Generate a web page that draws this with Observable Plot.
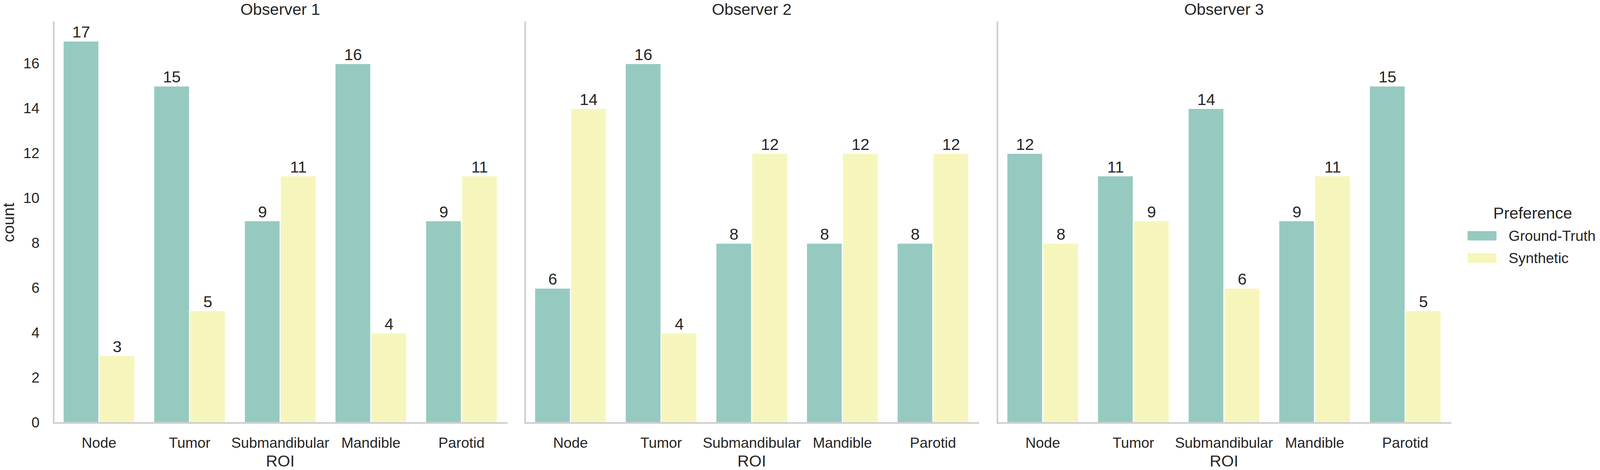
<!DOCTYPE html>
<html>
<head>
<meta charset="utf-8">
<script src="https://cdn.jsdelivr.net/npm/d3@7"></script>
<script src="https://cdn.jsdelivr.net/npm/@observablehq/plot@0.6"></script>
<style>
  html, body { margin: 0; padding: 0; background: #ffffff; overflow: hidden; height: 1204px; }
  #chart { position: relative; height: 1204px; font-family: "Liberation Sans", Arial, sans-serif; color: #262626; background: #ffffff; }
  .panel { position: absolute; top: 0; }
  .lg { position: absolute; white-space: nowrap; line-height: 1; }
</style>
</head>
<body>
<div id="chart"></div>
<script>
// ---- data ----
const observers = ["Observer 1", "Observer 2", "Observer 3"];
const rois = ["Node", "Tumor", "Submandibular", "Mandible", "Parotid"];
const preferences = ["Ground-Truth", "Synthetic"];
const groundTruthObs1 = [17, 15, 9, 16, 9];
const syntheticObs1   = [3, 5, 11, 4, 11];
const groundTruthObs2 = [6, 16, 8, 8, 8];
const syntheticObs2   = [14, 4, 12, 12, 12];
const groundTruthObs3 = [12, 11, 14, 9, 15];
const syntheticObs3   = [8, 9, 6, 11, 5];
const yTicks = [0, 2, 4, 6, 8, 10, 12, 14, 16];
const colors = ["#96cac1", "#f6f6bc"];

const seriesByObserver = [
  [groundTruthObs1, syntheticObs1],
  [groundTruthObs2, syntheticObs2],
  [groundTruthObs3, syntheticObs3]
];

// ---- layout (designed for 4168 px, fitted to the available width) ----
const DESIGN_W = 4168;
const W = Math.min(window.innerWidth || DESIGN_W, DESIGN_W);
const sx = W / DESIGN_W;
const panels = [
  {left: 0,    ml: 137, mr: 22, fw: 1185},
  {left: 1344, ml: 22,  mr: 22, fw: 1184},
  {left: 2573, ml: 22,  mr: 22, fw: 1185}
];
const FONT = '"Liberation Sans", Arial, sans-serif';
const TXT = "#262626";
const SPINE = "#cccccc";
const big = 42 * sx, small = 38 * sx;

const chart = document.getElementById("chart");
chart.style.width = W + "px";
document.body.style.width = W + "px";

observers.forEach((obs, i) => {
  const rows = [];
  rois.forEach((roi, j) => {
    preferences.forEach((pref, k) => {
      rows.push({observer: obs, roi, pref, count: seriesByObserver[i][k][j]});
    });
  });
  const p = panels[i];
  const ml = p.ml * sx, mr = p.mr * sx, fw = p.fw * sx;
  const marks = [
    Plot.barY(rows, {fx: "roi", x: "pref", y: "count", fill: "pref", stroke: "white", strokeWidth: 3}),
    Plot.text(rows, {fx: "roi", x: "pref", y: "count", text: d => String(d.count), lineAnchor: "bottom", dy: -9, fontSize: big, fill: TXT}),
    Plot.frame({anchor: "left", facet: "super", stroke: SPINE, strokeWidth: 4}),
    Plot.frame({anchor: "bottom", facet: "super", stroke: SPINE, strokeWidth: 4}),
    Plot.axisFx({anchor: "bottom", tickSize: 0, tickPadding: 37, fontSize: small, label: null, fill: TXT}),
    Plot.text([obs], {facet: "super", frameAnchor: "top", dy: -18, lineAnchor: "bottom", fontSize: big, fill: TXT}),
    Plot.text(["ROI"], {facet: "super", frameAnchor: "bottom", dy: 112, lineAnchor: "bottom", fontSize: big, fill: TXT})
  ];
  if (i === 0) {
    marks.push(Plot.axisY({ticks: yTicks, tickSize: 0, tickPadding: 37 * sx, fontSize: small, label: null, fill: TXT}));
    marks.push(Plot.text(["count"], {facet: "super", frameAnchor: "left", dx: -103 * sx, rotate: -90, lineAnchor: "bottom", textAnchor: "middle", fontSize: big, fill: TXT}));
  }
  const svg = Plot.plot({
    width: ml + fw + mr,
    height: 1204,
    marginLeft: ml,
    marginRight: mr,
    marginTop: 56,
    marginBottom: 121,
    style: {background: "transparent", overflow: "visible", fontFamily: FONT, color: TXT, maxWidth: "none"},
    fx: {domain: rois, paddingInner: 0, paddingOuter: 0, label: null},
    x: {domain: preferences, paddingInner: 0, paddingOuter: 0.25, axis: null},
    y: {domain: [0, 17.85], axis: i === 0 ? undefined : null},
    color: {domain: preferences, range: colors},
    marks
  });
  svg.classList.add("panel");
  svg.style.left = (p.left * sx) + "px";
  chart.appendChild(svg);
});

// ---- legend (HTML, built from the arrays) ----
const legendTitle = document.createElement("div");
legendTitle.className = "lg";
legendTitle.textContent = "Preference";
Object.assign(legendTitle.style, {left: (3890 * sx) + "px", top: "526px", fontSize: big + "px"});
chart.appendChild(legendTitle);
preferences.forEach((pref, k) => {
  const sw = document.createElement("div");
  sw.className = "lg";
  Object.assign(sw.style, {left: (3823 * sx) + "px", top: (592 + k * 57) + "px", width: (75 * sx) + "px", height: "24px", background: colors[k]});
  chart.appendChild(sw);
  const lb = document.createElement("div");
  lb.className = "lg";
  lb.textContent = pref;
  Object.assign(lb.style, {left: (3930 * sx) + "px", top: (586 + k * 57) + "px", fontSize: small + "px"});
  chart.appendChild(lb);
});
</script>
</body>
</html>
